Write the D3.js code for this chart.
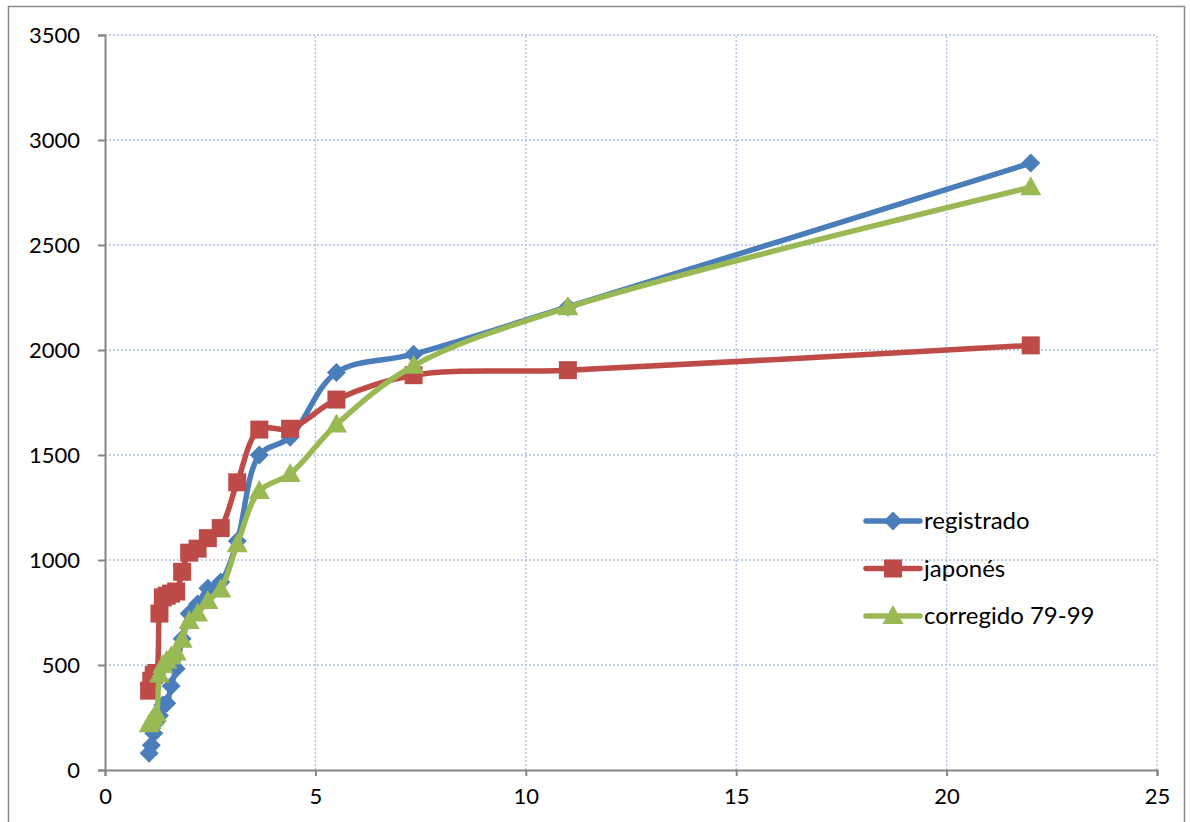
<!DOCTYPE html>
<html><head><meta charset="utf-8">
<script src="https://cdn.jsdelivr.net/npm/d3@7"></script>
<style>body{margin:0;background:#fff}svg{display:block}</style>
</head><body>
<script>
const returnPeriods = [22, 11, 7.333, 5.5, 4.4, 3.667, 3.143, 2.75, 2.444, 2.2, 2.0, 1.833, 1.692, 1.571, 1.467, 1.375, 1.294, 1.222, 1.158, 1.1, 1.048];
const registrado = [2890, 2205, 1980, 1893, 1585, 1500, 1090, 895, 865, 790, 745, 625, 482, 400, 318, 310, 260, 230, 175, 118, 80];
const japones = [2022, 1904, 1880, 1764, 1625, 1621, 1370, 1152, 1104, 1054, 1035, 944, 850, 840, 830, 822, 745, 462, 452, 425, 378];
const corregido = [2775, 2203, 1925, 1645, 1410, 1328, 1075, 860, 805, 745, 710, 620, 560, 540, 520, 500, 455, 268, 250, 232, 218];
const seriesNames = ["registrado", "japonés", "corregido 79-99"];
const xTicks = [0, 5, 10, 15, 20, 25];
const yTicks = [0, 500, 1000, 1500, 2000, 2500, 3000, 3500];

const W = 1190, H = 822;
const svg = d3.select("body").append("svg").attr("width", W).attr("height", H);
svg.append("rect").attr("x", 8.5).attr("y", 6.5).attr("width", 1176).attr("height", 830)
  .attr("fill", "#fff").attr("stroke", "#8a8a8a").attr("stroke-width", 1.5);

const x = d3.scaleLinear().domain([0, 25]).range([105, 1157]);
const y = d3.scaleLinear().domain([0, 3500]).range([770, 35]);
const font = "Lato, 'Open Sans', sans-serif";

// gridlines
const grid = svg.append("g").attr("stroke", "#a9bfe6").attr("stroke-width", 1.3).attr("stroke-dasharray", "2,2");
yTicks.filter(d => d > 0).forEach(t => grid.append("line").attr("x1", x(0)).attr("x2", x(25)).attr("y1", y(t)).attr("y2", y(t)));
xTicks.filter(d => d > 0).forEach(t => grid.append("line").attr("x1", x(t)).attr("x2", x(t)).attr("y1", y(0)).attr("y2", y(3500)));

// axes
const xAxis = svg.append("g").attr("transform", `translate(0,${y(0)})`)
  .call(d3.axisBottom(x).tickValues(xTicks).tickSize(6).tickPadding(12).tickFormat(d3.format("d")));
const yAxis = svg.append("g").attr("transform", `translate(${x(0)},0)`)
  .call(d3.axisLeft(y).tickValues(yTicks).tickSize(7).tickPadding(18).tickFormat(d3.format("d")));
[xAxis, yAxis].forEach(a => {
  a.select(".domain").attr("stroke", "#868686").attr("stroke-width", 2);
  a.selectAll(".tick line").attr("stroke", "#868686").attr("stroke-width", 2);
  a.selectAll("text").attr("font-family", font).attr("font-size", 22).attr("fill", "#000");
});

const colors = ["#4a7ebb", "#be4b48", "#98b954"];
const allData = [registrado, japones, corregido];
const line = d3.line().x(d => x(d[0])).y(d => y(d[1])).curve(d3.curveCatmullRom.alpha(0.5));

function marker(g, type, cx, cy, color) {
  if (type === 0) {
    g.append("path").attr("d", `M${cx},${cy-9.5}L${cx+9.5},${cy}L${cx},${cy+9.5}L${cx-9.5},${cy}Z`).attr("fill", color);
  } else if (type === 1) {
    g.append("rect").attr("x", cx-9).attr("y", cy-9).attr("width", 18).attr("height", 18).attr("fill", color);
  } else {
    g.append("path").attr("d", `M${cx},${cy-11}L${cx+10.5},${cy+8}L${cx-10.5},${cy+8}Z`).attr("fill", color);
  }
}

allData.forEach((vals, i) => {
  const pts = returnPeriods.map((r, k) => [r, vals[k]]);
  const g = svg.append("g");
  g.append("path").attr("d", line(pts)).attr("fill", "none").attr("stroke", colors[i])
    .attr("stroke-width", 5.5).attr("stroke-linejoin", "round").attr("stroke-linecap", "round");
  pts.forEach(p => marker(g, i, x(p[0]), y(p[1]), colors[i]));
});

// legend
const lg = svg.append("g");
seriesNames.forEach((n, i) => {
  const ly = 521 + i * 47.5;
  lg.append("line").attr("x1", 866).attr("x2", 920).attr("y1", ly).attr("y2", ly)
    .attr("stroke", colors[i]).attr("stroke-width", 5.5).attr("stroke-linecap", "round");
  marker(lg, i, 893, ly, colors[i]);
  lg.append("text").attr("x", 924).attr("y", ly + 8).attr("font-family", font).attr("font-size", 24).text(n);
});
</script>
</body></html>
